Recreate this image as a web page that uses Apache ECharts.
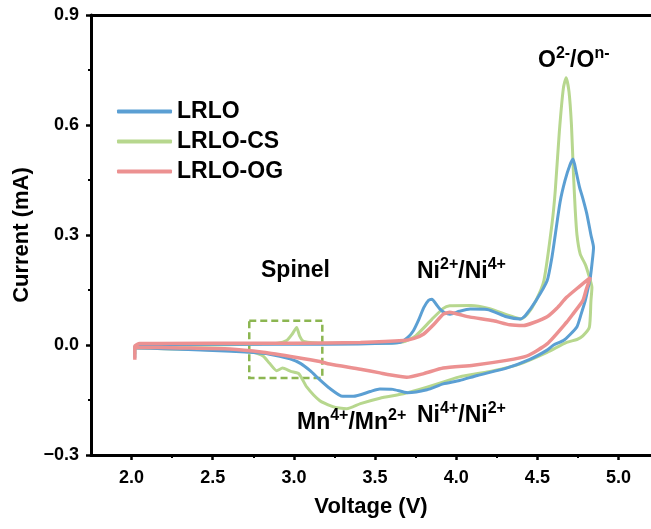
<!DOCTYPE html>
<html>
<head>
<meta charset="utf-8">
<script src="https://cdn.jsdelivr.net/npm/echarts@6/dist/echarts.min.js"></script>
<style>
html,body{margin:0;padding:0;background:#fff;}
#chart{width:651px;height:529px;}
</style>
</head>
<body>
<div id="chart"></div>
<script>
// ---- data ----
var seriesNames = ['LRLO', 'LRLO-CS', 'LRLO-OG'];

var lrloV = [2.02,2.02,2.05,2.5,3.0,3.4,3.6,3.655,3.70,3.736,3.77,3.80,3.83,3.85,3.875,3.90,3.93,3.962,4.02,4.086,4.19,4.31,4.395,4.425,4.49,4.56,4.59,4.61,4.64,4.67,4.70,4.72,4.74,4.76,4.78,4.805,4.83,4.846,4.836,4.826,4.81,4.795,4.77,4.744,4.70,4.66,4.60,4.56,4.45,4.31,4.13,4.02,3.92,3.82,3.70,3.61,3.53,3.47,3.366,3.30,3.22,3.16,3.10,3.04,2.976,2.85,2.73,2.5,2.2,2.03];
var lrloI = [-0.035,-0.004,0.0,0.002,0.002,0.003,0.005,0.007,0.02,0.039,0.07,0.102,0.122,0.125,0.112,0.098,0.088,0.084,0.092,0.098,0.097,0.077,0.071,0.08,0.12,0.175,0.24,0.30,0.39,0.448,0.49,0.507,0.47,0.43,0.40,0.357,0.30,0.266,0.22,0.184,0.15,0.121,0.085,0.05,0.028,0.012,0.0,-0.014,-0.04,-0.063,-0.083,-0.097,-0.106,-0.122,-0.13,-0.121,-0.12,-0.127,-0.14,-0.14,-0.118,-0.095,-0.07,-0.05,-0.038,-0.025,-0.02,-0.015,-0.01,-0.008];

var lrloCsV = [2.02,2.02,2.05,2.5,2.8,2.9,2.955,2.99,3.017,3.035,3.06,3.2,3.5,3.67,3.75,3.85,3.92,3.96,4.09,4.2,4.33,4.40,4.44,4.49,4.54,4.59,4.61,4.635,4.66,4.677,4.695,4.71,4.722,4.733,4.744,4.764,4.795,4.815,4.836,4.83,4.82,4.78,4.744,4.68,4.56,4.39,4.23,4.02,3.82,3.675,3.53,3.41,3.326,3.28,3.24,3.16,3.08,3.03,2.98,2.93,2.894,2.85,2.81,2.75,2.5,2.2,2.03];
var lrloCsI = [-0.025,-0.006,-0.002,0.0,0.003,0.005,0.012,0.03,0.048,0.025,0.01,0.005,0.005,0.008,0.025,0.07,0.1,0.107,0.108,0.1,0.08,0.071,0.085,0.12,0.175,0.33,0.42,0.58,0.70,0.729,0.69,0.60,0.47,0.37,0.30,0.248,0.22,0.193,0.157,0.12,0.048,0.025,0.015,0.007,-0.02,-0.052,-0.07,-0.087,-0.115,-0.133,-0.145,-0.16,-0.174,-0.172,-0.168,-0.152,-0.115,-0.078,-0.072,-0.063,-0.07,-0.05,-0.03,-0.02,-0.013,-0.01,-0.008];

var lrloOgV = [2.02,2.02,2.05,2.5,3.0,3.41,3.675,3.74,3.80,3.86,3.92,3.96,4.02,4.086,4.23,4.33,4.415,4.47,4.56,4.62,4.68,4.76,4.826,4.80,4.78,4.72,4.68,4.56,4.435,4.31,4.106,3.92,3.80,3.695,3.57,3.53,3.41,3.22,3.16,3.017,2.81,2.606,2.3,2.03];
var lrloOgI = [-0.04,-0.003,0.004,0.005,0.005,0.007,0.012,0.018,0.03,0.055,0.084,0.089,0.083,0.076,0.066,0.055,0.053,0.06,0.077,0.1,0.13,0.16,0.184,0.15,0.121,0.085,0.062,0.003,-0.03,-0.042,-0.055,-0.063,-0.078,-0.088,-0.08,-0.076,-0.066,-0.052,-0.045,-0.034,-0.02,-0.011,-0.008,-0.006];

var xMajorTicks = [2.0,2.5,3.0,3.5,4.0,4.5,5.0];
var xMinorTicks = [2.25,2.75,3.25,3.75,4.25,4.75];
var spinelBox = [[2.725,0.066],[3.175,-0.09]];

function zip(a,b){ return a.map(function(v,i){ return [v,b[i]]; }); }

var FONT = '"Liberation Sans", Arial, sans-serif';
var colors = ['#5b9fd3', '#b7d78e', '#ec9191'];

var chart = echarts.init(document.getElementById('chart'), null, {renderer:'canvas'});

function supText(parts){
  return parts.map(function(p){ return '{' + (p[1] ? 's' : 'b') + '|' + p[0] + '}'; }).join('');
}
var rich = {
  b:{fontSize:23, fontWeight:'bold', fontFamily:FONT, color:'#000', lineHeight:26, verticalAlign:'bottom'},
  s:{fontSize:16, fontWeight:'bold', fontFamily:FONT, color:'#000', lineHeight:16, verticalAlign:'top'}
};
function label(x, y, parts){
  return {type:'text', left:x, top:y, z:100, style:{text:supText(parts), rich:rich, font:'bold 23px ' + FONT}};
}

var option = {
  animation:false,
  backgroundColor:'#fff',
  grid:{left:91, right:0, top:15, bottom:74, containLabel:false},
  legend:{
    data:seriesNames,
    icon:'roundRect',
    orient:'vertical', left:112, top:95,
    itemWidth:55, itemHeight:4, itemGap:7,
    textStyle:{fontSize:23, fontWeight:'bold', fontFamily:FONT, color:'#000', lineHeight:23}
  },
  xAxis:[
    {type:'value', min:1.75, max:5.2, position:'bottom',
     axisLine:{show:true, onZero:false, lineStyle:{color:'#000', width:3}},
     axisTick:{show:true, inside:false, length:5, customValues:xMajorTicks, lineStyle:{color:'#000', width:2.5}},
     axisLabel:{show:true, customValues:xMajorTicks, margin:14, formatter:function(v){return v.toFixed(1);},
       fontSize:18, fontWeight:'bold', fontFamily:FONT, color:'#000'},
     splitLine:{show:false},
     name:'Voltage (V)', nameLocation:'middle', nameGap:41,
     nameTextStyle:{fontSize:22, fontWeight:'bold', fontFamily:FONT, color:'#000'}},
    {type:'value', min:1.75, max:5.2, position:'bottom',
     axisLine:{show:false, onZero:false},
     axisTick:{show:true, inside:false, length:3, customValues:xMinorTicks, lineStyle:{color:'#000', width:2}},
     axisLabel:{show:false}, splitLine:{show:false}},
    {type:'value', min:1.75, max:5.2, position:'top',
     axisLine:{show:true, onZero:false, lineStyle:{color:'#000', width:3}},
     axisTick:{show:false}, axisLabel:{show:false}, splitLine:{show:false}}
  ],
  yAxis:{
    type:'value', min:-0.3, max:0.9, interval:0.3,
    axisLine:{show:true, onZero:false, lineStyle:{color:'#000', width:3}},
    axisTick:{show:true, inside:false, length:5, lineStyle:{color:'#000', width:2.5}},
    minorTick:{show:true, splitNumber:2, length:3, lineStyle:{color:'#000', width:2}},
    axisLabel:{margin:12, fontSize:18, fontWeight:'bold', fontFamily:FONT, color:'#000',
      formatter:function(v){ return (v < 0 ? '\u2212' : '') + Math.abs(v).toFixed(1); }},
    splitLine:{show:false},
    name:'Current (mA)', nameLocation:'middle', nameGap:56, nameRotate:90,
    nameTextStyle:{fontSize:22, fontWeight:'bold', fontFamily:FONT, color:'#000'}
  },
  series:[
    {name:seriesNames[0], type:'line', data:zip(lrloV, lrloI), showSymbol:false, symbol:'none', smooth:0.2, z:3,
     lineStyle:{color:colors[0], width:3}, itemStyle:{color:colors[0]}},
    {name:seriesNames[1], type:'line', data:zip(lrloCsV, lrloCsI), showSymbol:false, symbol:'none', smooth:0.2, z:2,
     lineStyle:{color:colors[1], width:3}, itemStyle:{color:colors[1]},
     markArea:{silent:true, itemStyle:{color:'rgba(0,0,0,0)', borderColor:'#8cb651', borderWidth:2.5, borderType:[7,4]},
       data:[[{coord:spinelBox[0]},{coord:spinelBox[1]}]]}},
    {name:seriesNames[2], type:'line', data:zip(lrloOgV, lrloOgI), showSymbol:false, symbol:'none', smooth:0.2, z:4,
     lineStyle:{color:colors[2], width:3.5}, itemStyle:{color:colors[2]}}
  ],
  graphic:[
    label(538, 46, [['O',0],['2-',1],['/O',0],['n-',1]]),
    label(417, 257, [['Ni',0],['2+',1],['/Ni',0],['4+',1]]),
    {type:'text', left:261, top:259, z:100, style:{text:'Spinel', font:'bold 23px ' + FONT, fill:'#000'}},
    label(297, 408, [['Mn',0],['4+',1],['/Mn',0],['2+',1]]),
    label(417, 401, [['Ni',0],['4+',1],['/Ni',0],['2+',1]])
  ]
};
chart.setOption(option);
</script>
</body>
</html>
